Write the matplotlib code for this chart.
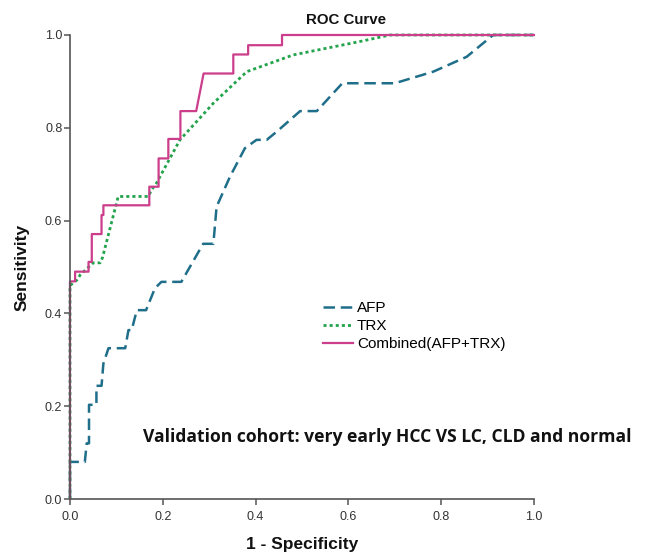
import matplotlib.pyplot as plt

# ROC curve - validation cohort (very early HCC vs LC, CLD and normal)
fpr_afp = [0, 0, 0.032, 0.036, 0.041, 0.041, 0.057, 0.057, 0.068, 0.072, 0.083,
           0.119, 0.126, 0.133, 0.144, 0.164, 0.183, 0.197, 0.24, 0.287, 0.309,
           0.316, 0.345, 0.377, 0.402, 0.424, 0.446, 0.496, 0.532, 0.587, 0.70,
           0.783, 0.855, 0.912, 1.0]
tpr_afp = [0, 0.08, 0.08, 0.12, 0.12, 0.203, 0.203, 0.244, 0.244, 0.292, 0.325,
           0.325, 0.364, 0.364, 0.407, 0.407, 0.454, 0.468, 0.468, 0.55, 0.55,
           0.63, 0.695, 0.756, 0.774, 0.774, 0.792, 0.836, 0.836, 0.896, 0.896,
           0.921, 0.953, 1.0, 1.0]

fpr_trx = [0, 0, 0.015, 0.022, 0.05, 0.065, 0.07, 0.104, 0.169, 0.175, 0.186,
           0.237, 0.309, 0.381, 0.481, 0.625, 0.69, 1.0]
tpr_trx = [0, 0.46, 0.472, 0.483, 0.509, 0.509, 0.52, 0.652, 0.652, 0.665, 0.68,
           0.774, 0.853, 0.921, 0.957, 0.986, 1.0, 1.0]

fpr_comb = [0, 0, 0.011, 0.011, 0.04, 0.04, 0.047, 0.047, 0.068, 0.068, 0.072,
            0.072, 0.171, 0.171, 0.191, 0.191, 0.212, 0.212, 0.238, 0.238, 0.272,
            0.288, 0.352, 0.352, 0.384, 0.384, 0.457, 0.457, 1.0]
tpr_comb = [0, 0.469, 0.469, 0.490, 0.490, 0.511, 0.511, 0.571, 0.571, 0.612, 0.612,
            0.633, 0.633, 0.673, 0.673, 0.734, 0.734, 0.776, 0.776, 0.836, 0.836,
            0.917, 0.917, 0.958, 0.958, 0.978, 0.978, 1.0, 1.0]

ticks = [0.0, 0.2, 0.4, 0.6, 0.8, 1.0]

plt.rcParams['font.family'] = ['Liberation Sans', 'DejaVu Sans']

fig = plt.figure(figsize=(6.48, 5.59), dpi=100)
ax = fig.add_axes([0.108, 0.1073, 0.716, 0.8301])

ax.plot(fpr_afp, tpr_afp, color='#1f6e8a', lw=1.8, linestyle=(0, (4.6, 2.3)),
        label='AFP', clip_on=False)
ax.plot(fpr_trx, tpr_trx, color='#22a34c', lw=2.0, linestyle=(0, (1.1, 1.1)),
        label='TRX', clip_on=False)
ax.plot(fpr_comb, tpr_comb, color='#cc3d8c', lw=1.6, label='Combined(AFP+TRX)',
        clip_on=False)

ax.set_xlim(0, 1)
ax.set_ylim(0, 1)
ax.set_xticks(ticks)
ax.set_yticks(ticks)
ax.set_xticklabels(['%.1f' % t for t in ticks])
ax.set_yticklabels(['%.1f' % t for t in ticks])
ax.tick_params(direction='out', length=4, width=1.1, colors='#555555',
               labelcolor='#333333', labelsize=9)
ax.tick_params(axis='x', pad=4.5)
ax.tick_params(axis='y', pad=1.5)
for s in ['top', 'right']:
    ax.spines[s].set_visible(False)
for s in ['left', 'bottom']:
    ax.spines[s].set_color('#555555')
    ax.spines[s].set_linewidth(1.2)

fig.text(346 / 648, 1 - 20 / 559, 'ROC Curve', ha='center', va='center',
         fontsize=10.8, fontweight='bold', color='#111111')
fig.text(22 / 648, 1 - 267 / 559, 'Sensitivity', rotation=90, ha='center',
         va='center', fontsize=12.5, fontweight='bold', color='#111111')
fig.text(302 / 648, 1 - 545 / 559, '1 - Specificity', ha='center', va='center',
         fontsize=12.5, fontweight='bold', color='#111111')
fig.text(143 / 648, 1 - 437 / 559,
         'Validation cohort: very early HCC VS LC, CLD and normal',
         ha='left', va='center', fontsize=12.6, fontweight='bold',
         family=['Open Sans', 'DejaVu Sans'], color='#111111')

fig.legend(loc='upper left', bbox_to_anchor=(323 / 648, 1 - 301 / 559),
           frameon=False, fontsize=11, handlelength=1.95, handletextpad=0.27,
           labelspacing=0.27, borderpad=0, borderaxespad=0)

plt.savefig('out.png', dpi=100)
